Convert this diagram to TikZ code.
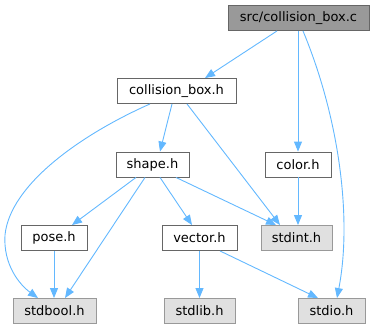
\documentclass[tikz,border=0pt]{standalone}
\usepackage{fontspec}
\setmainfont{DejaVu Sans}
\usetikzlibrary{arrows.meta}

\begin{document}
\begin{tikzpicture}[x=1pt, y=-1pt]
        \tikzset{
            file/.style={
                    draw=black!60, fill=white, font=\fontsize{13}{15}\selectfont,
                    minimum height=25pt, inner sep=0pt, line width=0.9pt
                },
            main file/.style={
                    file, fill=black!40, draw=black!60
                },
            sys file/.style={
                    file, fill=black!12, draw=black!40
                },
            dep/.style={
                    draw={rgb,255:red,99;green,184;blue,255}, line width=0.9pt,
                    -{Stealth[length=10pt, width=8pt, inset=0pt]}
                }
        }
        \useasboundingbox (0,0) rectangle (374,329);

        % sources and project headers
        \node[main file, minimum width=141pt] (src) at (298.5, 18) {src/collision\_box.c};
        \node[file, minimum width=119pt] (cbox) at (176.5, 91) {collision\_box.h};
        \node[file, minimum width=73pt] (shape) at (152.5, 164.5) {shape.h};
        \node[file, minimum width=66pt] (color) at (298, 164.5) {color.h};
        \node[file, minimum width=66pt] (pose) at (54, 238) {pose.h};
        \node[file, minimum width=75pt] (vector) at (199.5, 238) {vector.h};

        % system headers
        \node[sys file, minimum width=71pt] (stdint) at (296.5, 238) {stdint.h};
        \node[sys file, minimum width=83pt] (stdbool) at (54.5, 311) {stdbool.h};
        \node[sys file, minimum width=71pt] (stdlib) at (199.5, 311) {stdlib.h};
        \node[sys file, minimum width=67pt] (stdio) at (331.5, 311) {stdio.h};

        % includes
        \draw[dep] (src.south -| 277,0) -- (cbox.north -| 205,0);
        \draw[dep] (src.south -| 298,0) -- (color.north -| 298,0);
        \draw[dep] (src.south -| 303,0) .. controls (340,120) and (352,220) .. (stdio.north -| 337,0);
        \draw[dep] (cbox.south -| 150,0) .. controls (80,135) and (10,185) .. (5,235)
                   .. controls (3,265) and (20,285) .. (stdbool.north -| 38,0);
        \draw[dep] (cbox.south -| 172,0) -- (shape.north -| 160,0);
        \draw[dep] (cbox.south -| 187,0) -- (stdint.north -| 280,0);
        \draw[dep] (shape.south -| 136,0) -- (pose.north -| 72,0);
        \draw[dep] (shape.south -| 145,0) -- (stdbool.north -| 65,0);
        \draw[dep] (shape.south -| 160,0) -- (vector.north -| 192,0);
        \draw[dep] (shape.south -| 176,0) -- (stdint.north -| 276,0);
        \draw[dep] (color) -- (stdint.north -| color);
        \draw[dep] (pose) -- (stdbool.north -| pose);
        \draw[dep] (vector.south -| 199.5,0) -- (stdlib);
        \draw[dep] (vector.south -| 220,0) -- (stdio.north -| 318,0);
    \end{tikzpicture}
\end{document}
